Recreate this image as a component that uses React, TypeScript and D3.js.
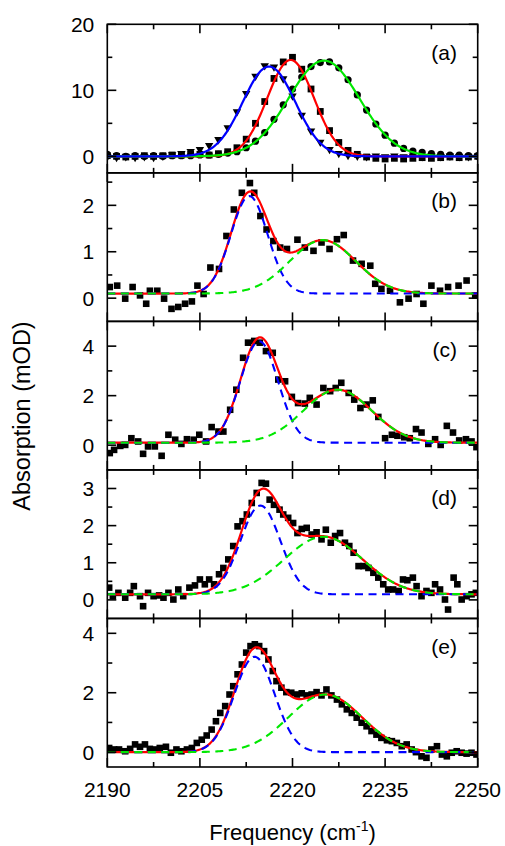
import React from 'react'
import * as d3 from 'd3'

// ---- axes ----
const xMajorTicks = [2190, 2205, 2220, 2235, 2250]
const xMinorTicks = [2197.5, 2212.5, 2227.5, 2242.5]
const panelLetters = ['(a)', '(b)', '(c)', '(d)', '(e)']
const yDomains: [number, number][] = [[-2.5, 20], [-0.5, 2.7], [-1, 5], [-0.5, 3.5], [-0.5, 4.5]]
const yMajorTicks = [[0, 10, 20], [0, 1, 2], [0, 2, 4], [0, 1, 2, 3], [0, 2, 4]]
const yMinorTicks = [[5, 15], [0.5, 1.5, 2.5], [1, 3], [0.5, 1.5, 2.5], [1, 3]]

// ---- panel (a): three samples (triangles / squares / circles) ----
const trianglesA: [number, number][] = [
  [2190, -0.2], [2191.5, -0.3], [2193, -0.2], [2194.5, -0.3], [2196, -0.2], [2197.5, -0.3], [2199, -0.1],
  [2200.5, 0.1], [2202, 0.3], [2203.5, 0.6], [2205, 0.9], [2206.5, 1.5], [2208, 2.4], [2209.5, 4.2],
  [2211, 6.6], [2212.5, 9.4], [2214, 12.0], [2215.5, 13.6], [2217, 13.4], [2218.5, 11.6], [2220, 9.0],
  [2221.5, 6.1], [2223, 3.7], [2224.5, 2.0], [2226, 0.9], [2227.5, 0.3], [2229, 0.0], [2230.5, -0.1],
  [2232, -0.2], [2233.5, -0.1], [2235, -0.2], [2236.5, -0.1], [2238, -0.2], [2239.5, -0.1], [2241, -0.2],
  [2242.5, -0.1], [2244, -0.2], [2245.5, -0.1], [2247, -0.2], [2248.5, -0.2], [2250, -0.2]
]
const squaresA: [number, number][] = [
  [2190, 0.1], [2191.5, 0.0], [2193, -0.1], [2194.5, 0.0], [2196, 0.1], [2197.5, 0.0], [2199, 0.1],
  [2200.5, 0.2], [2202, 0.2], [2203.5, 0.3], [2205, 0.3], [2206.5, 0.2], [2208, 0.4], [2209.5, 0.7],
  [2211, 1.3], [2212.5, 2.6], [2214, 5.0], [2215.5, 8.3], [2217, 11.8], [2218.5, 14.3], [2220, 15.0],
  [2221.5, 13.2], [2223, 10.2], [2224.5, 6.8], [2226, 3.9], [2227.5, 2.1], [2229, 0.9], [2230.5, 0.3],
  [2232, -0.1], [2233.5, -0.3], [2235, -0.4], [2236.5, -0.3], [2238, -0.4], [2239.5, -0.3], [2241, -0.2],
  [2242.5, -0.3], [2244, -0.2], [2245.5, -0.1], [2247, -0.2], [2248.5, -0.1], [2250, 0.0]
]
const circlesA: [number, number][] = [
  [2190, 0.3], [2191.5, 0.1], [2193, 0.0], [2194.5, 0.1], [2196, 0.0], [2197.5, 0.1], [2199, 0.0],
  [2200.5, 0.1], [2202, 0.1], [2203.5, 0.1], [2205, 0.2], [2206.5, 0.2], [2208, 0.3], [2209.5, 0.5],
  [2211, 0.7], [2212.5, 1.3], [2214, 2.3], [2215.5, 3.6], [2217, 5.6], [2218.5, 7.8], [2220, 10.2],
  [2221.5, 12.0], [2223, 13.6], [2224.5, 14.2], [2226, 14.3], [2227.5, 13.4], [2229, 11.6], [2230.5, 9.3],
  [2232, 7.0], [2233.5, 4.9], [2235, 3.2], [2236.5, 2.0], [2238, 1.2], [2239.5, 0.8], [2241, 0.6],
  [2242.5, 0.4], [2244, 0.3], [2245.5, 0.2], [2247, 0.2], [2248.5, 0.1], [2250, 0.1]
]
// gaussian fits of panel (a): blue (triangles), red (squares), green (circles)
const bandCenterA = [2216.2, 2219.7, 2225.1]
const bandFwhmA = [10, 8.9, 13.5]
const bandHeightA = [13.6, 14.6, 14.5]

// ---- panels (b)-(e): measured spectra ----
const spectrumB: [number, number][] = [
  [2190.4, 0.24], [2191.6, 0.27], [2192.9, -0.01], [2194.1, 0.24], [2195.3, 0.06], [2196.3, -0.12],
  [2196.9, 0.16], [2198.1, 0.16], [2199.2, -0.01], [2200.4, -0.23], [2201.5, -0.19], [2202.6, -0.12],
  [2203.7, -0.07], [2204.6, 0.27], [2205.6, 0.09], [2206.7, 0.66], [2208.1, 0.63], [2209.3, 1.34],
  [2210.5, 1.91], [2211.8, 2.27], [2213.1, 2.48], [2213.8, 2.27], [2214.8, 1.77], [2215.8, 1.48],
  [2216.9, 1.23], [2218.0, 1.09], [2219.1, 1.06], [2220.8, 1.26], [2222.0, 1.09], [2223.4, 1.02],
  [2224.7, 1.2], [2226.0, 1.06], [2227.2, 1.27], [2228.3, 1.36], [2229.8, 0.81], [2231.2, 0.74],
  [2232.6, 0.70], [2233.4, 0.31], [2234.4, 0.2], [2235.8, 0.16], [2237.4, -0.09], [2238.8, -0.01],
  [2240.1, 0.09], [2241.2, -0.12], [2242.5, 0.27], [2243.9, 0.16], [2245.2, 0.24], [2246.9, 0.27],
  [2248.2, 0.38], [2249.6, 0.06]
]
const spectrumC: [number, number][] = [
  [2190.4, -0.32], [2191.1, -0.19], [2192.1, -0.03], [2192.9, 0.01], [2193.9, 0.28], [2195.0, 0.15],
  [2195.8, -0.35], [2196.6, -0.05], [2197.7, -0.05], [2198.8, -0.43], [2199.9, 0.42], [2201.0, 0.22],
  [2202.0, 0.05], [2202.9, 0.24], [2204.0, 0.22], [2204.9, 0.42], [2206.0, 0.15], [2206.9, 0.73],
  [2208.0, 0.55], [2208.8, 0.55], [2209.9, 1.43], [2210.9, 2.24], [2212.0, 3.53], [2212.8, 4.14],
  [2213.8, 4.21], [2214.7, 4.14], [2215.7, 3.8], [2216.8, 3.73], [2217.7, 2.65], [2218.8, 2.58],
  [2219.9, 1.95], [2220.9, 1.7], [2222.0, 1.68], [2222.8, 1.91], [2223.9, 1.64], [2225.0, 2.31],
  [2226.1, 2.18], [2227.0, 2.31], [2227.9, 2.52], [2229.1, 2.11], [2230.0, 1.84], [2231.0, 1.5],
  [2232.0, 1.64], [2233.0, 1.81], [2233.9, 1.14], [2235.0, 0.28], [2236.1, 0.42], [2237.0, 0.38],
  [2238.1, 0.32], [2239.0, 0.28], [2240.0, 0.65], [2240.9, 0.51], [2242.0, 0.05], [2243.1, 0.24],
  [2244.0, 0.01], [2245.0, 0.78], [2246.0, 0.51], [2247.0, 0.19], [2248.1, 0.24], [2249.0, 0.15],
  [2249.8, -0.08]
]
const spectrumD: [number, number][] = [
  [2190.3, 0.33], [2190.9, 0.1], [2191.8, 0.19], [2192.9, 0.06], [2193.7, 0.19], [2194.3, 0.37],
  [2195.3, 0.1], [2195.8, -0.17], [2196.6, 0.19], [2197.5, 0.1], [2198.4, 0.12], [2199.1, 0.06],
  [2199.9, 0.19], [2200.7, 0.01], [2201.5, 0.28], [2202.3, 0.1], [2203.3, 0.33], [2204.2, 0.39],
  [2205.0, 0.55], [2205.8, 0.42], [2206.5, 0.55], [2207.3, 0.42], [2208.1, 0.69], [2208.8, 0.86],
  [2209.6, 1.09], [2210.4, 1.45], [2211.1, 1.98], [2211.9, 2.12], [2212.6, 2.3], [2213.4, 2.61],
  [2214.2, 2.88], [2215.0, 3.15], [2215.7, 3.13], [2216.3, 2.7], [2217.0, 2.56], [2217.9, 2.43],
  [2218.5, 2.3], [2219.3, 2.21], [2220.1, 2.07], [2220.8, 1.8], [2221.5, 1.91], [2222.3, 1.94],
  [2223.1, 1.76], [2223.9, 1.82], [2224.7, 1.63], [2225.4, 1.89], [2226.2, 1.54], [2226.9, 1.72],
  [2227.7, 1.8], [2228.5, 1.54], [2229.2, 1.45], [2229.9, 1.27], [2230.7, 0.91], [2231.5, 0.91],
  [2232.3, 0.86], [2233.1, 0.73], [2233.9, 0.6], [2234.7, 0.42], [2235.5, 0.28], [2236.3, 0.28],
  [2237.2, 0.24], [2237.9, 0.55], [2238.6, 0.53], [2239.5, 0.6], [2240.1, 0.37], [2240.9, 0.1],
  [2241.7, 0.24], [2242.5, 0.19], [2243.1, 0.42], [2243.9, 0.28], [2244.7, 0.01], [2245.2, -0.26],
  [2246.1, 0.6], [2246.7, 0.42], [2247.4, 0.01], [2248.2, 0.1], [2249.0, 0.15], [2249.7, 0.19]
]
const spectrumE: [number, number][] = [
  [2190.3, 0.14], [2191.1, 0.09], [2191.9, 0.09], [2192.9, 0.03], [2193.7, 0.11], [2194.5, 0.26],
  [2195.3, 0.18], [2196.1, 0.26], [2196.9, 0.11], [2197.7, 0.09], [2198.5, 0.14], [2199.5, 0.18],
  [2200.3, -0.02], [2201.2, 0.09], [2202.0, 0.03], [2202.9, 0.09], [2203.7, 0.14], [2204.5, 0.31],
  [2205.3, 0.42], [2206.1, 0.56], [2206.9, 0.76], [2207.6, 1.04], [2208.3, 1.32], [2209.1, 1.55],
  [2209.8, 1.94], [2210.4, 2.22], [2211.1, 2.62], [2211.8, 2.95], [2212.5, 3.35], [2213.2, 3.57],
  [2213.9, 3.63], [2214.6, 3.57], [2215.4, 3.4], [2216.1, 3.12], [2216.8, 2.73], [2217.4, 2.39],
  [2218.2, 2.17], [2219.0, 2.02], [2219.8, 2.0], [2220.7, 1.94], [2221.5, 1.98], [2222.3, 1.91],
  [2223.1, 1.94], [2223.9, 2.02], [2224.7, 1.91], [2225.5, 2.11], [2226.3, 1.91], [2227.2, 1.77],
  [2228.0, 1.61], [2228.8, 1.44], [2229.6, 1.32], [2230.4, 1.16], [2231.2, 0.99], [2232.0, 0.87],
  [2232.8, 0.71], [2233.6, 0.59], [2234.4, 0.48], [2235.3, 0.4], [2236.1, 0.37], [2236.9, 0.31],
  [2237.7, 0.2], [2238.5, 0.26], [2239.3, 0.09], [2240.0, 0.0], [2240.9, -0.14], [2241.7, -0.19],
  [2242.5, 0.09], [2243.4, 0.2], [2244.2, -0.08], [2245.0, -0.14], [2245.8, -0.02], [2246.6, 0.03],
  [2247.4, -0.02], [2248.2, -0.05], [2249.0, -0.02], [2249.8, -0.08]
]
// two-component gaussian fits for (b)-(e): low (blue) and high (green) frequency bands
const fitBaseline = [0.1, 0.1, 0.15, 0]
const lowCenter = [2213.0, 2214.6, 2214.8, 2213.85]
const lowFwhm = [7.0, 7.2, 7.6, 7.7]
const lowHeight = [2.1, 4.1, 2.39, 3.21]
const highCenter = [2224.9, 2227.3, 2225.0, 2225.3]
const highFwhm = [12.6, 13, 15, 14]
const highHeight = [1.15, 2.14, 1.55, 1.94]

const spectra = [spectrumB, spectrumC, spectrumD, spectrumE]

const W = 505
const H = 846
const left = 107.3
const right = 477.7
const top = 24.3
const bottom = 767
const font = 'Liberation Sans, Arial, Helvetica, sans-serif'
const RED = '#ff0000'
const BLUE = '#0000ff'
const GREEN = '#00e800'

function gauss(x: number, c: number, fwhm: number, h: number) {
  return h * Math.exp(-4 * Math.LN2 * ((x - c) / fwhm) ** 2)
}

export default function App() {
  const panelH = (bottom - top) / 5
  const x = d3.scaleLinear().domain([2190, 2250]).range([left, right])
  const grid = d3.range(2190, 2250.001, 0.2)

  return (
    <svg width={W} height={H} viewBox={`0 0 ${W} ${H}`}
      style={{ position: 'absolute', left: 0, top: 0, background: '#fff' }}
      fontFamily={font}>
      <defs>
        {panelLetters.map((_, i) => (
          <clipPath key={i} id={`clip${i}`}>
            <rect x={left} y={top + i * panelH} width={right - left} height={panelH} />
          </clipPath>
        ))}
      </defs>
      {panelLetters.map((letter, i) => {
        const y0 = top + i * panelH
        const y1 = y0 + panelH
        const y = d3.scaleLinear().domain(yDomains[i]).range([y1, y0])
        const path = (fn: (v: number) => number) =>
          d3.line<number>().x(v => x(v)).y(v => y(fn(v)))(grid) || ''

        let marks: React.ReactNode = null
        let fits: React.ReactNode = null
        if (i === 0) {
          marks = (
            <g fill="#000">
              {squaresA.map((d, k) => (
                <rect key={`s${k}`} x={x(d[0]) - 3.4} y={y(d[1]) - 3.4} width={6.8} height={6.8} />
              ))}
              {circlesA.map((d, k) => (
                <circle key={`c${k}`} cx={x(d[0])} cy={y(d[1])} r={3.6} />
              ))}
              {trianglesA.map((d, k) => (
                <path key={`t${k}`} transform={`translate(${x(d[0])},${y(d[1])})`} d="M-4.2,-3.4L4.2,-3.4L0,3.9Z" />
              ))}
            </g>
          )
          const order = [1, 2, 0]
          const colors = [BLUE, RED, GREEN]
          fits = order.map(b => (
            <path key={b} d={path(v => gauss(v, bandCenterA[b], bandFwhmA[b], bandHeightA[b]))}
              fill="none" stroke={colors[b]} strokeWidth={2.2} />
          ))
        } else {
          const j = i - 1
          const base = fitBaseline[j]
          const low = (v: number) => gauss(v, lowCenter[j], lowFwhm[j], lowHeight[j])
          const high = (v: number) => gauss(v, highCenter[j], highFwhm[j], highHeight[j])
          marks = (
            <g fill="#000">
              {spectra[j].map((d, k) => (
                <rect key={k} x={x(d[0]) - 3.3} y={y(d[1]) - 3.3} width={6.6} height={6.6} />
              ))}
            </g>
          )
          fits = (
            <g fill="none" strokeWidth={2.1}>
              <path d={path(v => base + low(v) + high(v))} stroke={RED} strokeWidth={2.2} />
              <path d={path(v => base + low(v))} stroke={BLUE} strokeDasharray="8,5.5" />
              <path d={path(v => base + high(v))} stroke={GREEN} strokeDasharray="8,5.5" />
            </g>
          )
        }

        return (
          <g key={letter}>
            <g clipPath={`url(#clip${i})`}>
              {marks}
              {fits}
            </g>
            <rect x={left} y={y0} width={right - left} height={panelH} fill="none" stroke="#000" strokeWidth={1.6} />
            {yMajorTicks[i].map(t => (
              <g key={`ym${t}`}>
                <line x1={left} x2={left + 9} y1={y(t)} y2={y(t)} stroke="#000" strokeWidth={1.6} />
                <line x1={right} x2={right - 9} y1={y(t)} y2={y(t)} stroke="#000" strokeWidth={1.6} />
                <text x={left - 13} y={y(t)} dy="0.36em" textAnchor="end" fontSize={21}>{t}</text>
              </g>
            ))}
            {yMinorTicks[i].map(t => (
              <g key={`yn${t}`}>
                <line x1={left} x2={left + 5} y1={y(t)} y2={y(t)} stroke="#000" strokeWidth={1.6} />
                <line x1={right} x2={right - 5} y1={y(t)} y2={y(t)} stroke="#000" strokeWidth={1.6} />
              </g>
            ))}
            {xMajorTicks.map(t => (
              <g key={`xm${t}`}>
                <line x1={x(t)} x2={x(t)} y1={y0} y2={y0 + 9} stroke="#000" strokeWidth={1.6} />
                <line x1={x(t)} x2={x(t)} y1={y1} y2={y1 - 9} stroke="#000" strokeWidth={1.6} />
              </g>
            ))}
            {xMinorTicks.map(t => (
              <g key={`xn${t}`}>
                <line x1={x(t)} x2={x(t)} y1={y0} y2={y0 + 5} stroke="#000" strokeWidth={1.6} />
                <line x1={x(t)} x2={x(t)} y1={y1} y2={y1 - 5} stroke="#000" strokeWidth={1.6} />
              </g>
            ))}
            <text x={457} y={y0 + 28} dy="0.36em" textAnchor="end" fontSize={21}>{letter}</text>
          </g>
        )
      })}
      {xMajorTicks.map(t => (
        <text key={t} x={x(t)} y={bottom + 30} textAnchor="middle" fontSize={21}>{t}</text>
      ))}
      <text x={(left + right) / 2} y={840} textAnchor="middle" fontSize={22}>
        Frequency (cm<tspan fontSize={14} dy={-9}>-1</tspan><tspan dy={9}>)</tspan>
      </text>
      <text transform={`translate(30,416) rotate(-90)`} textAnchor="middle" fontSize={23.5}>Absorption (mOD)</text>
    </svg>
  )
}
